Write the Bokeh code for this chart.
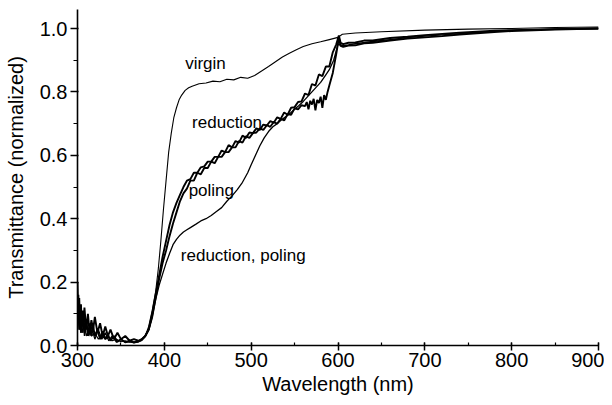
from bokeh.plotting import figure
from bokeh.models import SingleIntervalTicker, PrintfTickFormatter, ColumnDataSource
from bokeh.core.properties import value
from bokeh.embed import file_html
from bokeh.resources import INLINE

# ---------------- data ----------------
x_ticks_interval = 100
y_ticks_interval = 0.2

virgin_x = [300, 302, 304, 306, 308, 310, 313, 316, 320, 324, 328, 332, 336, 340, 345, 350, 355, 360, 365, 370,
            374, 378, 382, 386, 390, 393, 396, 399, 402, 405, 408, 411, 414, 417, 420, 424, 428, 432, 440, 448,
            456, 464, 472, 480, 488, 496, 504, 512, 520, 528, 536, 544, 552, 560, 570, 580, 590, 600, 605, 620,
            650, 700, 750, 800, 850, 900]
virgin_y = [0.12, 0.05, 0.09, 0.04, 0.07, 0.03, 0.05, 0.03, 0.04, 0.02, 0.03, 0.02, 0.025, 0.015, 0.02, 0.012, 0.015, 0.01, 0.012, 0.014,
            0.02, 0.03, 0.06, 0.11, 0.17, 0.24, 0.33, 0.43, 0.52, 0.61, 0.67, 0.72, 0.75, 0.775, 0.79, 0.805, 0.813, 0.818, 0.826, 0.828,
            0.834, 0.832, 0.84, 0.838, 0.846, 0.843, 0.852, 0.866, 0.88, 0.895, 0.91, 0.922, 0.933, 0.943, 0.952, 0.958, 0.965, 0.972, 0.982, 0.986,
            0.99, 0.995, 0.998, 1.0, 1.003, 1.005]

reduction_x = [300, 301, 302, 303, 304, 305, 306, 307, 308, 310, 312, 314, 316, 318, 320, 323, 326, 329, 332, 335,
               338, 342, 346, 350, 355, 360, 365, 370, 374, 378, 382, 386, 390, 394, 398, 402, 406, 410, 414, 418,
               422, 426, 430, 434, 438, 442, 446, 450, 454, 458, 462, 466, 470, 474, 478, 482, 486, 490, 494, 498,
               502, 506, 510, 514, 518, 522, 526, 530, 534, 538, 542, 546, 550, 554, 558, 562, 566, 570, 574, 578,
               582, 586, 590, 594, 598, 601, 603, 606, 612, 620, 630, 640, 660, 680, 700, 720, 740, 760, 780, 800,
               850, 900]
reduction_y = [0.20, 0.08, 0.15, 0.06, 0.13, 0.05, 0.11, 0.07, 0.12, 0.05, 0.10, 0.04, 0.08, 0.05, 0.09, 0.04, 0.07, 0.03, 0.06, 0.03,
               0.05, 0.02, 0.04, 0.02, 0.03, 0.015, 0.02, 0.015, 0.02, 0.03, 0.05, 0.10, 0.16, 0.22, 0.28, 0.33, 0.38, 0.42, 0.45, 0.475,
               0.50, 0.52, 0.525, 0.545, 0.545, 0.562, 0.565, 0.58, 0.58, 0.595, 0.595, 0.615, 0.61, 0.632, 0.625, 0.645, 0.64, 0.662, 0.655, 0.672,
               0.67, 0.685, 0.68, 0.697, 0.694, 0.708, 0.703, 0.72, 0.715, 0.735, 0.728, 0.75, 0.752, 0.768, 0.77, 0.795, 0.79, 0.825, 0.82, 0.855,
               0.85, 0.88, 0.88, 0.925, 0.95, 0.978, 0.955, 0.951, 0.955, 0.956, 0.962, 0.962, 0.97, 0.974, 0.979, 0.983, 0.987, 0.99, 0.993, 0.995,
               0.998, 1.0]

poling_x = [300, 301, 302, 303, 304, 305, 306, 307, 308, 310, 312, 314, 316, 318, 320, 323, 326, 329, 332, 335,
            338, 342, 346, 350, 355, 360, 365, 370, 374, 378, 382, 386, 390, 394, 398, 402, 406, 410, 414, 418,
            422, 426, 430, 434, 438, 442, 446, 450, 454, 458, 462, 466, 470, 474, 478, 482, 486, 490, 494, 498,
            502, 506, 510, 514, 518, 522, 526, 530, 534, 538, 542, 546, 550, 554, 558, 562, 564, 566, 568, 570,
            572, 574, 576, 578, 580, 582, 584, 586, 588, 590, 594, 598, 601, 603, 606, 612, 620, 630, 640, 660,
            680, 700, 720, 740, 760, 780, 800, 850, 900]
poling_y = [0.09, 0.16, 0.05, 0.12, 0.04, 0.10, 0.06, 0.09, 0.04, 0.08, 0.03, 0.07, 0.03, 0.06, 0.03, 0.05, 0.02, 0.045, 0.02, 0.035,
            0.015, 0.03, 0.012, 0.02, 0.01, 0.015, 0.01, 0.012, 0.018, 0.03, 0.05, 0.09, 0.15, 0.21, 0.26, 0.30, 0.345, 0.385, 0.42, 0.455,
            0.48, 0.495, 0.52, 0.52, 0.545, 0.54, 0.56, 0.56, 0.58, 0.575, 0.595, 0.595, 0.61, 0.61, 0.625, 0.625, 0.645, 0.64, 0.66, 0.655,
            0.67, 0.672, 0.685, 0.68, 0.695, 0.69, 0.705, 0.70, 0.715, 0.71, 0.73, 0.728, 0.748, 0.745, 0.758, 0.755, 0.768, 0.745, 0.772, 0.76,
            0.778, 0.742, 0.775, 0.765, 0.785, 0.75, 0.79, 0.775, 0.80, 0.82, 0.86, 0.92, 0.97, 0.945, 0.942, 0.946, 0.947, 0.953, 0.955, 0.962,
            0.968, 0.972, 0.976, 0.981, 0.985, 0.989, 0.992, 0.997, 1.0]

redpol_x = [300, 302, 304, 306, 308, 310, 313, 316, 320, 324, 328, 332, 336, 340, 345, 350, 355, 360, 365, 370,
            374, 378, 382, 386, 390, 394, 398, 402, 406, 410, 414, 418, 422, 426, 430, 436, 442, 448, 454, 460,
            466, 472, 478, 484, 490, 496, 500, 505, 510, 515, 520, 525, 530, 535, 540, 545, 550, 555, 560, 565,
            570, 575, 580, 585, 590, 595, 600, 603, 606, 612, 620, 640, 660, 680, 700, 720, 740, 760, 780, 800,
            850, 900]
redpol_y = [0.06, 0.14, 0.04, 0.10, 0.03, 0.08, 0.03, 0.06, 0.02, 0.05, 0.02, 0.04, 0.015, 0.03, 0.01, 0.02, 0.01, 0.012, 0.008, 0.012,
            0.016, 0.028, 0.05, 0.09, 0.145, 0.19, 0.225, 0.26, 0.29, 0.318, 0.335, 0.348, 0.358, 0.365, 0.372, 0.382, 0.393, 0.40, 0.41, 0.423,
            0.435, 0.455, 0.472, 0.492, 0.515, 0.545, 0.57, 0.60, 0.63, 0.655, 0.675, 0.69, 0.70, 0.712, 0.722, 0.733, 0.745, 0.757, 0.77, 0.785,
            0.80, 0.815, 0.83, 0.85, 0.87, 0.90, 0.95, 0.948, 0.946, 0.948, 0.952, 0.959, 0.965, 0.971, 0.976, 0.98, 0.984, 0.988, 0.991, 0.994,
            0.998, 1.0]

label_texts = ["virgin", "reduction", "poling", "reduction, poling"]
label_x = [424, 432, 428, 419]
label_y = [0.89, 0.704, 0.49, 0.283]

# ---------------- figure ----------------
FONT = "Liberation Sans"

p = figure(width=604, height=397, output_backend="svg", toolbar_location=None,
           x_range=(300, 900), y_range=(0, 1.06),
           min_border_left=77, min_border_right=6, min_border_top=9, min_border_bottom=50)
p.outline_line_color = None
p.grid.visible = False
p.background_fill_color = "white"
p.border_fill_color = "white"

p.line(virgin_x, virgin_y, line_color="black", line_width=1.1)
p.line(redpol_x, redpol_y, line_color="black", line_width=1.3)
p.line(poling_x, poling_y, line_color="black", line_width=1.9)
p.line(reduction_x, reduction_y, line_color="black", line_width=1.9)

src = ColumnDataSource(dict(x=label_x, y=label_y, t=label_texts))
p.text(x="x", y="y", text="t", source=src, text_font=value(FONT), text_font_size="17px",
       text_color="black", text_align="left", text_baseline="alphabetic")

xa = p.xaxis[0]
xa.ticker = SingleIntervalTicker(interval=x_ticks_interval, num_minor_ticks=2)
xa.axis_label = "Wavelength (nm)"
ya = p.yaxis[0]
ya.ticker = SingleIntervalTicker(interval=y_ticks_interval, num_minor_ticks=2)
ya.formatter = PrintfTickFormatter(format="%.1f")
ya.axis_label = "Transmittance (normalized)"

for ax in (xa, ya):
    ax.axis_line_width = 1.6
    ax.axis_line_color = "black"
    ax.major_tick_line_color = "black"
    ax.minor_tick_line_color = "black"
    ax.major_tick_line_width = 1.5
    ax.minor_tick_line_width = 1.2
    ax.major_label_text_font = FONT
    ax.major_label_text_font_size = "20px"
    ax.major_label_text_color = "black"
    ax.axis_label_text_font = FONT
    ax.axis_label_text_font_size = "20px"
    ax.axis_label_text_font_style = "normal"
    ax.axis_label_text_color = "black"

xa.major_tick_in = 3
xa.major_tick_out = 5
xa.minor_tick_in = 3
xa.minor_tick_out = 0
xa.major_label_standoff = 2
xa.axis_label_standoff = 3

ya.major_tick_in = 1
ya.major_tick_out = 7
ya.minor_tick_in = 0
ya.minor_tick_out = 4
ya.major_label_standoff = 3
ya.axis_label_standoff = 10

open("out.html", "w").write(file_html(p, INLINE))
